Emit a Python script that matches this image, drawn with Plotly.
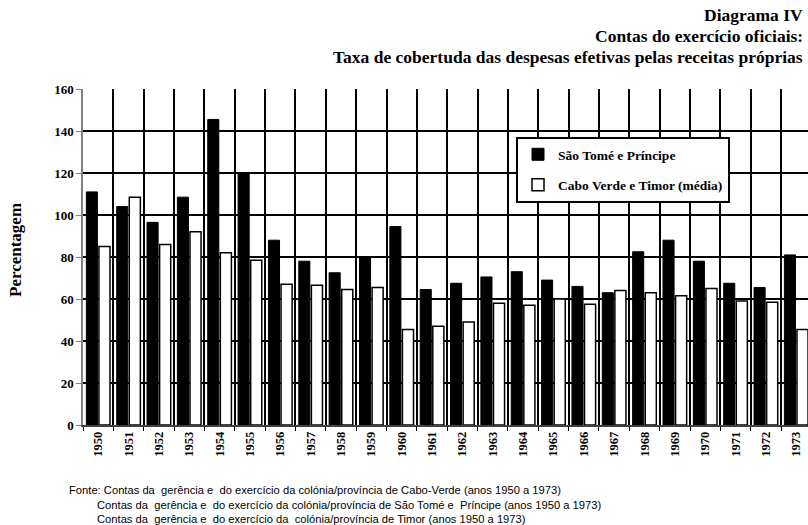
import plotly.graph_objects as go

years = [str(y) for y in range(1950, 1974)]
sao_tome = [111, 104, 96.5, 108.5, 145.5, 120, 88, 78, 72.5, 80, 94.5, 64.5,
            67.5, 70.5, 73, 69, 66, 63, 82.5, 88, 78, 67.5, 65.5, 81]
cabo_timor = [85, 108.5, 86, 92, 82, 78.5, 67, 66.5, 64.5, 65.5, 45.5, 47,
              49, 58, 57, 60, 57.5, 64, 63, 61.5, 65, 59, 58.5, 45.5]
series_names = ["São Tomé e Príncipe", "Cabo Verde e Timor (média)"]
title_lines = ["Diagrama IV", "Contas do exercício oficiais:",
               "Taxa de cobertuda das despesas efetivas pelas receitas próprias"]
source_lines = [
    "Fonte: Contas da  gerência e  do exercício da colónia/província de Cabo-Verde (anos 1950 a 1973)",
    "Contas da  gerência e  do exercício da colónia/província de São Tomé e  Príncipe (anos 1950 a 1973)",
    "Contas da  gerência e  do exercício da  colónia/província de Timor (anos 1950 a 1973)",
]

SERIF = "Liberation Serif, Times New Roman, serif"
SANS = "Liberation Sans, Arial, sans-serif"

fig = go.Figure()
fig.add_trace(go.Bar(x=years, y=sao_tome, name="<b>%s</b>" % series_names[0], legendgroup="a",
                     marker=dict(color="black", line=dict(color="black", width=1))))
fig.add_trace(go.Bar(x=years, y=cabo_timor, name="<b>%s</b>" % series_names[1], legendgroup="b",
                     marker=dict(color="white", line=dict(color="black", width=1.5))))

W, H = 808, 525
L, T, B = 83, 89, 100
pw = W - L
ph = H - T - B

def px_x(x):
    return (x - L) / pw

def px_y(y):
    return (H - B - y) / ph

annotations = []
for txt, yy in zip(title_lines, [15, 36, 57]):
    annotations.append(dict(text="<b>%s</b>" % txt, x=px_x(805), y=px_y(yy), xref="paper", yref="paper",
                            xanchor="right", yanchor="middle", showarrow=False,
                            font=dict(family=SERIF, size=17.5, color="black")))
for i, (txt, yy) in enumerate(zip(source_lines, [490, 505, 519])):
    annotations.append(dict(text=txt, x=px_x(67 if i == 0 else 95), y=px_y(yy), xref="paper", yref="paper",
                            xanchor="left", yanchor="middle", showarrow=False,
                            font=dict(family=SANS, size=11.2, color="black")))
annotations.append(dict(text="<b>Percentagem</b>", x=px_x(15), y=px_y(250), xref="paper", yref="paper",
                        xanchor="center", yanchor="middle", textangle=-90, showarrow=False,
                        font=dict(family=SERIF, size=17, color="black")))

fig.update_layout(
    width=W, height=H,
    margin=dict(l=L, r=0, t=T, b=B, pad=0),
    paper_bgcolor="white", plot_bgcolor="white",
    barmode="group", bargap=0.17, bargroupgap=0.12,
    showlegend=True,
    legend=dict(x=px_x(516), y=px_y(137), xanchor="left", yanchor="top",
                bgcolor="white", bordercolor="black", borderwidth=2,
                font=dict(family=SERIF, size=13.5, color="black"),
                itemwidth=30, tracegroupgap=10, traceorder="grouped"),
    annotations=annotations,
    xaxis=dict(type="category", range=[-0.5, -0.5 + pw / 30.35],
               tickson="boundaries", showgrid=True, gridcolor="black", gridwidth=1.6,
               ticks="outside", ticklen=4, tickcolor="black", tickangle=-90,
               showline=True, linecolor="#404040", linewidth=1.5,
               tickfont=dict(family=SERIF, size=12.5, color="black", weight="bold")),
    yaxis=dict(range=[0, 160], dtick=20, showgrid=True, gridcolor="black", gridwidth=1.6,
               zeroline=False, ticks="outside", ticklen=5, tickcolor="#808080",
               showline=True, linecolor="#808080", linewidth=1.5,
               tickfont=dict(family=SERIF, size=13, color="black", weight="bold")),
)

fig.write_html(
    "out.html",
    config={"displayModeBar": False},
    post_script=(
        "document.body.style.margin='0';"
        "document.body.style.overflow='hidden';"
        "document.documentElement.style.overflow='hidden';"
    ),
)
